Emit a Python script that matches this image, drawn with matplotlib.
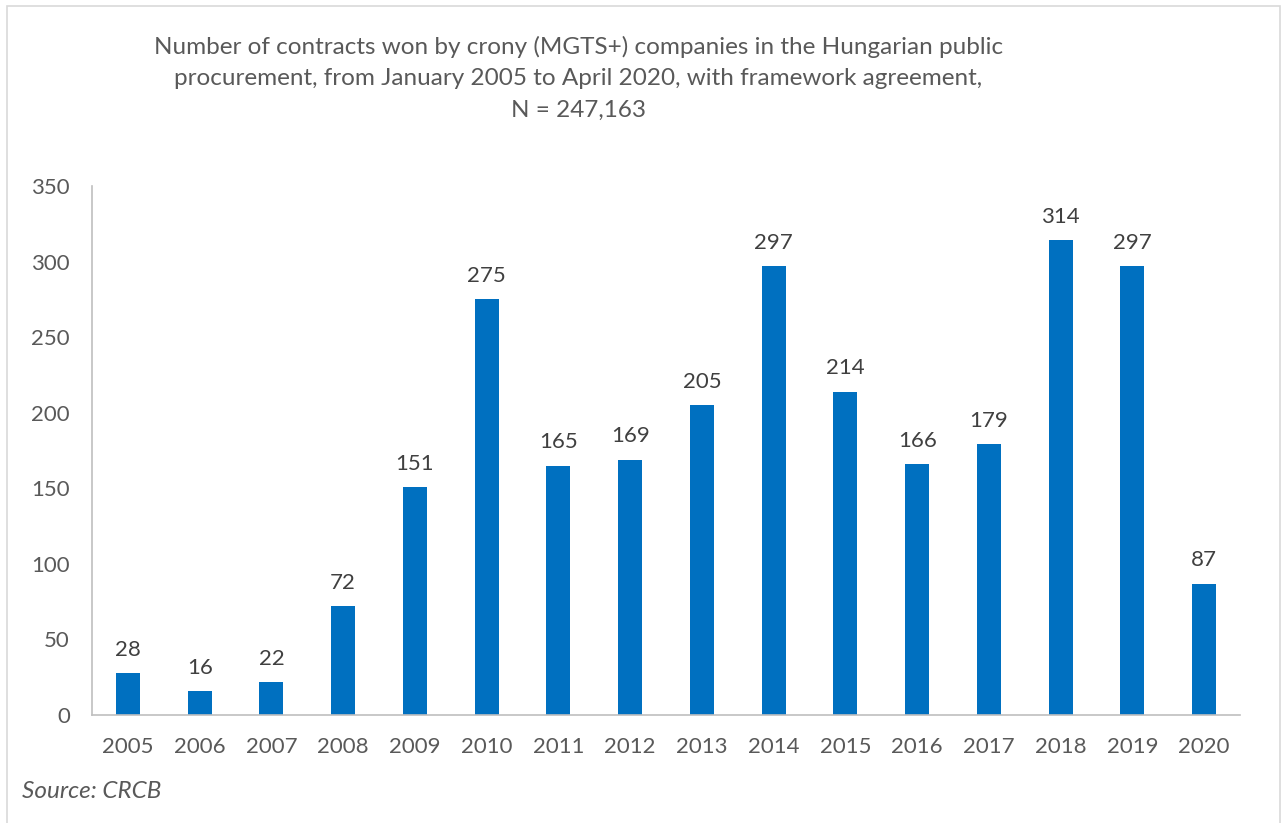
import matplotlib.pyplot as plt
from matplotlib.patches import Rectangle

years = ["2005", "2006", "2007", "2008", "2009", "2010", "2011", "2012",
         "2013", "2014", "2015", "2016", "2017", "2018", "2019", "2020"]
contracts = [28, 16, 22, 72, 151, 275, 165, 169, 205, 297, 214, 166, 179, 314, 297, 87]
y_ticks = [0, 50, 100, 150, 200, 250, 300, 350]

plt.rcParams["font.family"] = ["Lato", "DejaVu Sans"]
TEXT = "#595959"
LABEL = "#404040"
BAR = "#0070C0"

fig = plt.figure(figsize=(12.82, 8.23), dpi=100)
ax = fig.add_axes([0.0718, 0.1312, 0.8955, 0.6428])

x = range(len(years))
ax.bar(x, contracts, width=0.335, color=BAR, zorder=2)
for xi, v in zip(x, contracts):
    ax.annotate(str(v), (xi, v), xytext=(0, 9.5), textcoords="offset points",
                ha="center", va="bottom", fontsize=16, color=LABEL)

ax.set_xlim(-0.5, len(years) - 0.5)
ax.set_ylim(0, 350)
ax.set_yticks(y_ticks)
ax.set_xticks(list(x))
ax.set_xticklabels(years)
ax.tick_params(axis="both", length=0, labelsize=16, labelcolor=TEXT)
ax.tick_params(axis="y", pad=16)
ax.tick_params(axis="x", pad=16)
for s in ["top", "right"]:
    ax.spines[s].set_visible(False)
for s in ["left", "bottom"]:
    ax.spines[s].set_color("#BFBFBF")
    ax.spines[s].set_linewidth(1.2)

fig.text(0.451, 0.905, "Number of contracts won by crony (MGTS+) companies in the Hungarian public\n"
         "procurement, from January 2005 to April 2020, with framework agreement,\n"
         "N = 247,163", ha="center", va="center", fontsize=17.5, color=TEXT,
         linespacing=1.6)
fig.text(0.017, 0.038, "Source: CRCB", ha="left", va="center", fontsize=17.5,
         color=TEXT, style="italic")

fig.patches.append(Rectangle((0.0055, -0.01), 0.993, 1.0027, transform=fig.transFigure,
                             fill=False, edgecolor="#D9D9D9", linewidth=1.2))

fig.savefig("out.png", dpi=100)
